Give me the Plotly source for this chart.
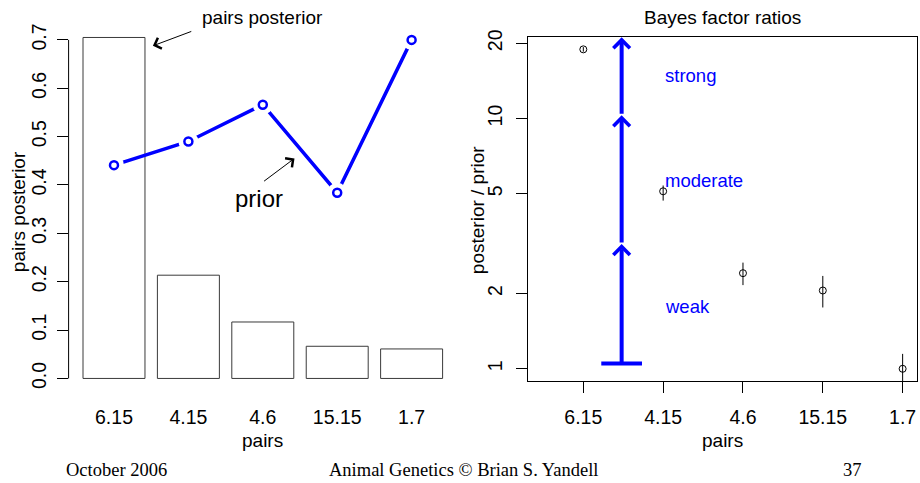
import numpy as np
import plotly.graph_objects as go

# ---- data ----
pairs = ["6.15", "4.15", "4.6", "15.15", "1.7"]
posterior = [0.705, 0.2135, 0.1167, 0.0665, 0.061]
prior = [0.441, 0.490, 0.566, 0.384, 0.700]

bf_ratio = [18.9, 5.12, 2.41, 2.055, 1.0]
bf_upper = [19.3, 5.40, 2.656, 2.35, 1.147]
bf_lower = [18.5, 4.70, 2.16, 1.758, 0.872]

left_yticks = [0.0, 0.1, 0.2, 0.3, 0.4, 0.5, 0.6, 0.7]
right_yticks = [1, 2, 5, 10, 20]

evidence_labels = ["weak", "moderate", "strong"]
evidence_label_y = [1.77, 5.65, 14.8]
evidence_steps = [1.05, 3.15, 10.3, 21.1]   # base of scale, then arrow tips
evidence_x = 1.48
evidence_base_halfwidth = 0.255

W, H = 920, 483
TOP = 5  # vertical inset of the drawing area
SANS = "Liberation Sans, Arial, sans-serif"
SERIF = "Liberation Serif, Times New Roman, serif"
BLUE = "#0000FF"
TICK_SIZE = 19.5
LABEL_SIZE = 19


def pxx(x):
    return x / W


def pxy(y):
    return (H - y) / (H - TOP)


idx = np.arange(len(pairs))
err_plus = [u - v for u, v in zip(bf_upper, bf_ratio)]
err_minus = [v - l for v, l in zip(bf_ratio, bf_lower)]

fig = go.Figure()

# left panel: posterior bars with prior overlaid
fig.add_trace(go.Bar(
    x=idx, y=posterior, width=0.833,
    marker=dict(color="white", line=dict(color="#3a3a3a", width=1)),
    xaxis="x", yaxis="y", showlegend=False, hoverinfo="skip"))
fig.add_trace(go.Scatter(
    x=idx, y=prior, mode="lines",
    line=dict(color=BLUE, width=3.5),
    xaxis="x", yaxis="y", showlegend=False, hoverinfo="skip"))
# white halo so the line breaks around each point
fig.add_trace(go.Scatter(
    x=idx, y=prior, mode="markers",
    marker=dict(symbol="circle", size=20, color="white", line=dict(width=0)),
    xaxis="x", yaxis="y", showlegend=False, hoverinfo="skip"))
fig.add_trace(go.Scatter(
    x=idx, y=prior, mode="markers",
    marker=dict(symbol="circle-open", size=8, color=BLUE, line=dict(width=2.5, color=BLUE)),
    xaxis="x", yaxis="y", showlegend=False, hoverinfo="skip"))

# right panel: Bayes factor ratios with intervals
fig.add_trace(go.Scatter(
    x=idx + 1, y=bf_ratio, mode="markers",
    marker=dict(symbol="circle-open", size=7, color="black", line=dict(width=1, color="black")),
    error_y=dict(type="data", array=err_plus, arrayminus=err_minus,
                 width=0, thickness=1, color="black"),
    xaxis="x2", yaxis="y2", showlegend=False, hoverinfo="skip", cliponaxis=True))

# base of the evidence scale
fig.add_trace(go.Scatter(
    x=[evidence_x - evidence_base_halfwidth, evidence_x + evidence_base_halfwidth],
    y=[evidence_steps[0], evidence_steps[0]], mode="lines",
    line=dict(color=BLUE, width=4),
    xaxis="x2", yaxis="y2", showlegend=False, hoverinfo="skip"))

axis_common = dict(showgrid=False, zeroline=False,
                   tickfont=dict(family=SANS, size=TICK_SIZE, color="black"))

fig.update_layout(
    width=W, height=H, margin=dict(l=0, r=0, t=0, b=0),
    paper_bgcolor="white", plot_bgcolor="white",
    xaxis=dict(domain=[pxx(68.6), pxx(457)], range=[-0.61, 4.61], anchor="y",
               tickvals=idx, ticktext=pairs, ticks="", showline=False,
               ticklabelstandoff=11, **axis_common),
    yaxis=dict(domain=[pxy(391.7), pxy(22)], range=[-0.0282, 0.733], anchor="x",
               tickvals=left_yticks, ticktext=[f"{v:.1f}" for v in left_yticks],
               ticks="outside", ticklen=11, tickcolor="black", tickangle=-90,
               ticklabelstandoff=3, showline=False, **axis_common),
    xaxis2=dict(domain=[pxx(528), pxx(917)], range=[0.307, 5.18], anchor="y2",
                tickvals=idx + 1, ticktext=pairs, ticks="outside", ticklen=11,
                tickcolor="black", showline=True, mirror=True, linecolor="black",
                linewidth=1, ticklabelstandoff=7, **axis_common),
    yaxis2=dict(domain=[pxy(381), pxy(35)], type="log",
                range=[-0.0505, 1.3263], anchor="x2",
                tickvals=right_yticks, ticktext=[str(v) for v in right_yticks],
                ticks="outside", ticklen=11, tickcolor="black", tickangle=-90,
                ticklabelstandoff=6,
                showline=True, mirror=True, linecolor="black", linewidth=1,
                **axis_common),
)

# left y axis line spans the tick range only
fig.update_layout(shapes=[
    dict(type="line", xref="x domain", yref="y", x0=0, x1=0,
         y0=left_yticks[0], y1=left_yticks[-1], line=dict(color="black", width=1)),
])

annotations = []


def text_at(x, y, s, size=LABEL_SIZE, family=SANS, color="black", angle=0):
    annotations.append(dict(x=pxx(x), y=pxy(y), xref="paper", yref="paper", text=s,
                            showarrow=False, textangle=angle, xanchor="center",
                            yanchor="middle",
                            font=dict(family=family, size=size, color=color)))


# panel titles and axis titles
text_at(262, 16, "pairs posterior")
text_at(722, 16, "Bayes factor ratios")
text_at(262, 440, "pairs")
text_at(722, 440, "pairs")
text_at(18, 211, "pairs posterior", angle=-90)
text_at(477, 209, "posterior / prior", angle=-90)

# footer
text_at(116, 470, "October 2006", size=18.5, family=SERIF)
text_at(463, 470, "Animal Genetics © Brian S. Yandell", size=18.5, family=SERIF)
text_at(852, 470, "37", size=18.5, family=SERIF)

# pointers in the left panel
annotations.append(dict(x=0.523, y=0.6877, ax=1.059, ay=0.7186, xref="x", yref="y",
                        axref="x", ayref="y", text="", showarrow=True, arrowhead=4,
                        arrowsize=2.2, arrowwidth=1, arrowcolor="black", standoff=0))
annotations.append(dict(x=2.426, y=0.455, ax=1.997, ay=0.4056, xref="x", yref="y",
                        axref="x", ayref="y", text="", showarrow=True, arrowhead=4,
                        arrowsize=2.2, arrowwidth=1, arrowcolor="black", standoff=0))
annotations.append(dict(x=1.944, y=0.3727, xref="x", yref="y", text="prior",
                        showarrow=False, font=dict(family=SANS, size=24, color="black")))

# evidence scale arrows
for base, tip in zip(evidence_steps[:-1], evidence_steps[1:]):
    annotations.append(dict(x=evidence_x, y=np.log10(tip), ax=evidence_x, ay=np.log10(base),
                            xref="x2", yref="y2", axref="x2", ayref="y2", text="",
                            showarrow=True, arrowhead=4, arrowsize=0.8, arrowwidth=4,
                            arrowcolor=BLUE, standoff=0, startstandoff=0))
for lab, yv in zip(evidence_labels, evidence_label_y):
    annotations.append(dict(x=2, y=np.log10(yv), xref="x2", yref="y2", text=lab,
                            showarrow=False, xanchor="left", yanchor="middle",
                            font=dict(family=SANS, size=18.5, color=BLUE)))

fig.update_layout(annotations=annotations)

fig.write_html("out.html")
